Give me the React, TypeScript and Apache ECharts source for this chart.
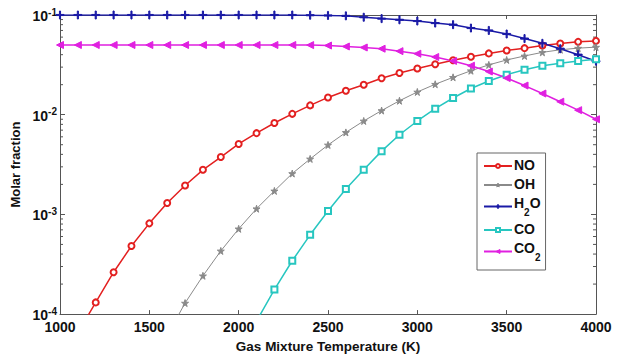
import React, { useEffect, useRef } from "react";
import * as echarts from "echarts";

// Gas mixture temperature (K), sampled every 100 K
const temperature: number[] = [
  1000, 1100, 1200, 1300, 1400, 1500, 1600, 1700, 1800, 1900, 2000,
  2100, 2200, 2300, 2400, 2500, 2600, 2700, 2800, 2900, 3000,
  3100, 3200, 3300, 3400, 3500, 3600, 3700, 3800, 3900, 4000,
];

// Molar fractions per species
const no: (number | null)[] = [
  2.6e-5, 6.5e-5, 1.31e-4, 2.63e-4, 4.82e-4, 8.13e-4, 1.3e-3, 1.95e-3, 2.8e-3, 3.76e-3, 5.09e-3,
  6.53e-3, 8.26e-3, 0.0102, 0.0124, 0.0149, 0.0174, 0.02, 0.0232, 0.0262, 0.0291,
  0.0321, 0.0352, 0.0382, 0.0412, 0.0441, 0.0465, 0.0494, 0.0517, 0.0538, 0.055,
];
const oh: (number | null)[] = [
  null, null, null, null, 1.0e-5, 2.6e-5, 6.1e-5, 1.29e-4, 2.42e-4, 4.3e-4, 7.16e-4,
  1.14e-3, 1.72e-3, 2.57e-3, 3.6e-3, 4.97e-3, 6.64e-3, 8.65e-3, 0.011, 0.0138, 0.0169,
  0.0202, 0.0237, 0.0276, 0.0316, 0.0354, 0.0388, 0.0422, 0.0448, 0.0465, 0.0476,
];
const h2o: (number | null)[] = [
  0.1, 0.1, 0.1, 0.1, 0.1, 0.1, 0.1, 0.1, 0.1, 0.1, 0.1,
  0.1, 0.1, 0.1, 0.0995, 0.099, 0.098, 0.095, 0.092, 0.0895, 0.087,
  0.083, 0.08, 0.074, 0.07, 0.0645, 0.058, 0.052, 0.0459, 0.04, 0.0344,
];
const co: (number | null)[] = [
  null, null, null, null, null, null, null, null, null, 1.2e-5, 3.5e-5,
  8.5e-5, 1.76e-4, 3.43e-4, 6.24e-4, 1.08e-3, 1.8e-3, 2.8e-3, 4.31e-3, 6.29e-3, 8.65e-3,
  0.0115, 0.0147, 0.0183, 0.0218, 0.0252, 0.0282, 0.0309, 0.0328, 0.0346, 0.036,
];
const co2: (number | null)[] = [
  0.05, 0.05, 0.05, 0.05, 0.05, 0.05, 0.05, 0.05, 0.05, 0.05, 0.05,
  0.05, 0.05, 0.05, 0.0499, 0.0494, 0.0483, 0.0472, 0.0459, 0.0434, 0.0409,
  0.0379, 0.0346, 0.031, 0.0271, 0.0233, 0.0196, 0.0163, 0.0135, 0.0111, 0.009,
];

// Minor tick values on the logarithmic axis (2..9 in each decade)
const minorTickValues: number[] = [];
for (const decade of [1e-4, 1e-3, 1e-2]) {
  for (let m = 2; m <= 9; m++) minorTickValues.push(+(m * decade).toPrecision(3));
}

const FONT = "Liberation Sans, Arial, sans-serif";
const AXIS_COLOR = "#555";

const STAR = "path://M50,0 L61,35 L98,35 L68,57 L79,91 L50,70 L21,91 L32,57 L2,35 L39,35 Z";
const PLUS = "path://M4.3,0 H5.7 V4.3 H10 V5.7 H5.7 V10 H4.3 V5.7 H0 V4.3 H4.3 Z";

function pairs(values: (number | null)[]) {
  return temperature.map((t, i) => [t, values[i]]);
}

function lineSeries(
  name: string,
  values: (number | null)[],
  color: string,
  symbol: string,
  symbolSize: number,
  width: number,
  extra: Record<string, unknown> = {}
) {
  return {
    name,
    type: "line",
    data: pairs(values),
    xAxisIndex: 0,
    yAxisIndex: 0,
    symbol,
    symbolSize,
    showAllSymbol: true,
    connectNulls: false,
    clip: true,
    itemStyle: { color, borderColor: color, borderWidth: 1 },
    lineStyle: { color, width },
    ...extra,
  };
}

export default function App() {
  const ref = useRef<HTMLDivElement>(null);

  useEffect(() => {
    if (!ref.current) return;
    const chart = echarts.init(ref.current, undefined, { renderer: "svg" });

    const xBase = {
      type: "value",
      min: 1000,
      max: 4000,
      interval: 500,
      axisLine: { show: true, lineStyle: { color: AXIS_COLOR, width: 1 } },
      axisTick: { show: true, inside: true, length: 4, lineStyle: { color: AXIS_COLOR } },
      splitLine: { show: false },
    };
    const yBase = {
      type: "log",
      logBase: 10,
      min: 1e-4,
      max: 1e-1,
      axisLine: { show: true, lineStyle: { color: AXIS_COLOR, width: 1 } },
      axisTick: { show: true, inside: true, length: 5, lineStyle: { color: AXIS_COLOR } },
      splitLine: { show: false },
    };

    chart.setOption({
      animation: false,
      backgroundColor: "#fff",
      grid: { left: 60, right: 24, top: 15, bottom: 39, containLabel: false },
      xAxis: [
        {
          ...xBase,
          position: "bottom",
          name: "Gas Mixture Temperature (K)",
          nameLocation: "middle",
          nameGap: 20,
          nameTextStyle: { fontFamily: FONT, fontWeight: "bold", fontSize: 13.5, color: "#111" },
          axisLabel: {
            fontFamily: FONT,
            fontWeight: "bold",
            fontSize: 14,
            color: "#111",
            margin: 6,
            formatter: (v: number) => String(v),
          },
        },
        { ...xBase, position: "top", axisLabel: { show: false } },
      ],
      yAxis: [
        {
          ...yBase,
          position: "left",
          name: "Molar fraction",
          nameLocation: "middle",
          nameGap: 38,
          nameTextStyle: { fontFamily: FONT, fontWeight: "bold", fontSize: 13, color: "#111" },
          axisLabel: {
            margin: 3,
            formatter: (v: number) => `{b|10}{s|${Math.round(Math.log10(v))}}`,
            rich: {
              b: { fontFamily: FONT, fontWeight: "bold", fontSize: 14, color: "#111", lineHeight: 16, verticalAlign: "bottom" },
              s: { fontFamily: FONT, fontWeight: "bold", fontSize: 10, color: "#111", lineHeight: 10, verticalAlign: "top" },
            },
          },
        },
        { ...yBase, position: "right", axisLabel: { show: false } },
      ],
      legend: {
        orient: "vertical",
        left: 477,
        top: 153,
        padding: [5, 5, 8, 6],
        itemWidth: 28,
        itemHeight: 5,
        itemGap: 5,
        borderColor: "#666",
        borderWidth: 1,
        backgroundColor: "#fff",
        itemStyle: { borderWidth: 1 },
        data: ["NO", "OH", "H2O", "CO", "CO2"],
        formatter: (name: string) => {
          if (name === "H2O") return "{n|H}{s|2}{n|O}";
          if (name === "CO2") return "{n|CO}{s|2}";
          return `{n|${name}}`;
        },
        textStyle: {
          padding: [0, 0, 0, -3],
          rich: {
            n: { fontFamily: FONT, fontWeight: "bold", fontSize: 14, color: "#111", lineHeight: 16, verticalAlign: "top" },
            s: { fontFamily: FONT, fontWeight: "bold", fontSize: 10, color: "#111", lineHeight: 21, verticalAlign: "bottom" },
          },
        },
      },
      series: [
        lineSeries("NO", no, "#e32020", "emptyCircle", 6, 1.5),
        lineSeries("OH", oh, "#8a8a8a", STAR, 7, 1),
        lineSeries("H2O", h2o, "#1a1aa6", PLUS, 8, 1.5),
        lineSeries("CO", co, "#27c6c0", "emptyRect", 6, 1.5),
        lineSeries("CO2", co2, "#e020e0", "triangle", 7, 1.5, { symbolRotate: 90 }),
        {
          // logarithmic minor ticks on the left and right axes
          type: "custom",
          xAxisIndex: 0,
          yAxisIndex: 0,
          silent: true,
          clip: false,
          data: minorTickValues.map((v) => [v]),
          encode: { y: 0 },
          renderItem: (_params: unknown, api: any) => {
            const v = api.value(0);
            const left = api.coord([1000, v]);
            const right = api.coord([4000, v]);
            const style = { stroke: AXIS_COLOR, lineWidth: 1 };
            return {
              type: "group",
              children: [
                { type: "line", shape: { x1: left[0], y1: left[1], x2: left[0] + 3, y2: left[1] }, style },
                { type: "line", shape: { x1: right[0], y1: right[1], x2: right[0] - 3, y2: right[1] }, style },
              ],
            };
          },
        },
      ],
    });

    return () => chart.dispose();
  }, []);

  return <div ref={ref} style={{ width: 620, height: 358, position: "absolute", left: 0, top: 0 }} />;
}
